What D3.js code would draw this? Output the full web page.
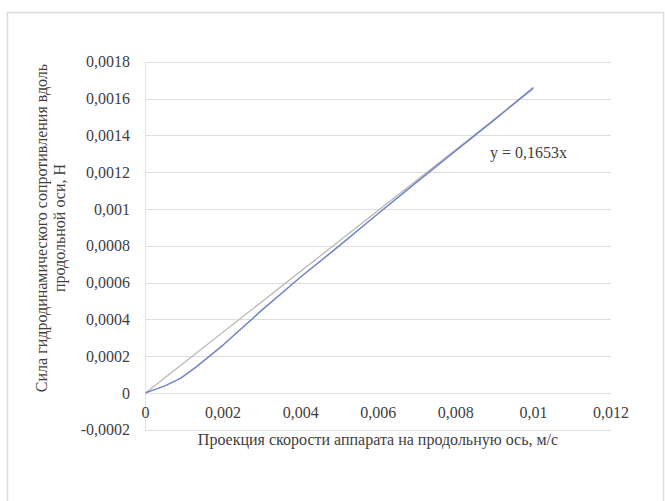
<!DOCTYPE html>
<html>
<head>
<meta charset="utf-8">
<script src="https://cdn.jsdelivr.net/npm/d3@7"></script>
<style>
  html, body { margin: 0; padding: 0; background: #fff; }
  svg { display: block; }
  text { font-family: "Liberation Serif", "Times New Roman", serif; fill: #404040; }
</style>
</head>
<body>
<script>
// Measured drag force vs. longitudinal velocity projection
const speedValues = [0, 0.0005, 0.0009, 0.0013, 0.002, 0.003, 0.004, 0.005, 0.006, 0.007, 0.008, 0.009, 0.01];
const forceValues = [0, 0.000038, 0.000079, 0.00014, 0.00026, 0.00045, 0.00063, 0.0008, 0.000975, 0.001147, 0.001316, 0.001485, 0.00166];

// Linear trend through the origin
const trendSlope = 0.1653;
const trendLabel = "y = 0,1653x";
const trendRange = [0, 0.01];

const xTicks = [0, 0.002, 0.004, 0.006, 0.008, 0.01, 0.012];
const yTicks = [-0.0002, 0, 0.0002, 0.0004, 0.0006, 0.0008, 0.001, 0.0012, 0.0014, 0.0016, 0.0018];

const xTitle = "Проекция скорости аппарата на продольную ось, м/с";
const yTitleLines = ["Сила гидродинамического сопротивления вдоль", "продольной оси, Н"];

const W = 665, H = 501;
const svg = d3.select("body").append("svg").attr("width", W).attr("height", H);

// chart frame
svg.append("rect")
  .attr("x", 7.5).attr("y", 12.5).attr("width", 656).attr("height", 510)
  .attr("fill", "#fff").attr("stroke", "#dcdcdc").attr("stroke-width", 1.5);

const x = d3.scaleLinear().domain([0, 0.012]).range([145.5, 611]);
const y = d3.scaleLinear().domain([-0.0002, 0.0018]).range([429.7, 61.7]);

// decimal comma, no trailing zeros
const fmt = v => v === 0 ? "0" : (+v.toPrecision(6)).toString().replace(".", ",");

// horizontal gridlines
svg.append("g").selectAll("line").data(yTicks).join("line")
  .attr("x1", x(0)).attr("x2", x(0.012))
  .attr("y1", d => Math.round(y(d)) + 0.5).attr("y2", d => Math.round(y(d)) + 0.5)
  .attr("stroke", "#dedede").attr("stroke-width", 1.2);

// vertical axis line
svg.append("line")
  .attr("x1", x(0)).attr("x2", x(0))
  .attr("y1", y(0.0018)).attr("y2", y(-0.0002))
  .attr("stroke", "#e2e2e2").attr("stroke-width", 1);

// y tick labels
svg.append("g").selectAll("text").data(yTicks).join("text")
  .attr("x", 130).attr("y", d => y(d))
  .attr("dy", "0.35em")
  .attr("text-anchor", "end")
  .style("font-size", "16px")
  .text(fmt);

// x tick labels
svg.append("g").selectAll("text").data(xTicks).join("text")
  .attr("x", d => x(d)).attr("y", 412)
  .attr("dy", "0.35em")
  .attr("text-anchor", "middle")
  .style("font-size", "16px")
  .text(fmt);

// trend line
svg.append("line")
  .attr("x1", x(trendRange[0])).attr("y1", y(trendSlope * trendRange[0]))
  .attr("x2", x(trendRange[1])).attr("y2", y(trendSlope * trendRange[1]))
  .attr("stroke", "#b8b8b8").attr("stroke-width", 1.3);

// data series
const line = d3.line().x((d, i) => x(speedValues[i])).y(d => y(d));
svg.append("path")
  .datum(forceValues)
  .attr("d", line)
  .attr("fill", "none")
  .attr("stroke", "#6f83c4")
  .attr("stroke-width", 1.5)
  .attr("stroke-linejoin", "round");

// trend equation
svg.append("text")
  .attr("x", 490).attr("y", 158)
  .style("font-size", "16px")
  .text(trendLabel);

// axis titles
svg.append("text")
  .attr("x", 378).attr("y", 445)
  .attr("text-anchor", "middle")
  .style("font-size", "16px")
  .text(xTitle);

const yt = svg.append("g").attr("transform", "translate(0,228) rotate(-90)");
yt.selectAll("text").data(yTitleLines).join("text")
  .attr("x", 0).attr("y", (d, i) => 47 + i * 18)
  .attr("text-anchor", "middle")
  .style("font-size", "16px")
  .text(d => d);
</script>
</body>
</html>
